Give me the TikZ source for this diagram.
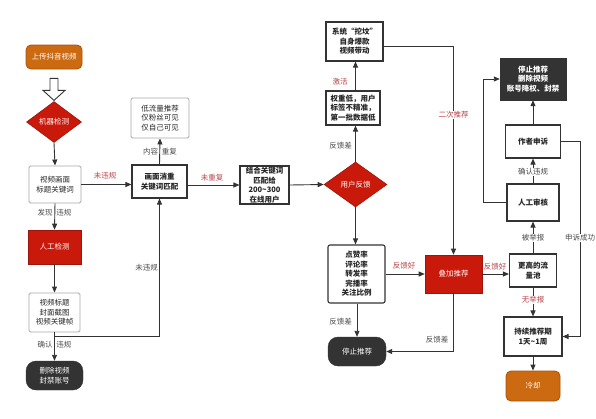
\documentclass[tikz,border=0pt]{standalone}
\usepackage{fontspec}
\newfontfamily\cjk{Noto Sans CJK SC}
\usetikzlibrary{arrows.meta,shapes.geometric}
\definecolor{lineC}{HTML}{333333}
\definecolor{redF}{HTML}{C8190B}
\definecolor{orangeF}{HTML}{CC6A12}
\definecolor{orangeD}{HTML}{A9520A}
\definecolor{darkF}{HTML}{333333}
\definecolor{labR}{HTML}{B8454A}
\definecolor{grayB}{HTML}{A8A8A8}
\begin{document}
\begin{tikzpicture}[x=1pt,y=-1pt,
  base/.style={align=center,inner sep=0pt,font=\cjk\fontsize{7.5}{9.5}\selectfont,text=black!85},
  blk/.style={base,draw=lineC,line width=1.1pt,fill=white,font=\cjk\bfseries\fontsize{7.5}{9.5}\selectfont},
  gry/.style={base,draw=grayB,line width=0.9pt,fill=white,rounded corners=1.5pt},
  redbox/.style={base,fill=redF,draw=redF!80!black,line width=0.6pt,text=white},
  redmd/.style={base,diamond,fill=redF,draw=redF!80!black,line width=0.6pt,text=white},
  darkbox/.style={base,fill=darkF,draw=darkF,text=white,rounded corners=10pt},
  orabox/.style={base,fill=orangeF,draw=orangeD,line width=0.8pt,text=white,rounded corners=5pt},
  lab/.style={base,text=black!70},
  rlab/.style={base,text=labR},
  wb/.style={fill=white,inner sep=1pt},
  arr/.style={draw=lineC,line width=0.9pt,-{Triangle[length=6pt,width=5pt]}},
  ln/.style={draw=lineC,line width=0.9pt}
]
\useasboundingbox (0,0) rectangle (596,418);

% left column
\node[orabox,minimum width=56,minimum height=24] (upload) at (54,57) {上传抖音视频};
\node[redmd,minimum width=55,minimum height=41,aspect=1.34] (detect) at (54,122) {机器检测};
\node[gry,minimum width=52,minimum height=37] (video) at (55,184.5) {视频画面\\标题关键词};
\node[redbox,minimum width=53,minimum height=34] (manual) at (54.5,247) {人工检测};
\node[gry,minimum width=51,minimum height=39] (frames) at (54.5,312.5) {视频标题\\封面截图\\视频关键帧};
\node[darkbox,minimum width=57,minimum height=29] (ban) at (54.5,375.5) {删除视频\\封禁账号};

% second column
\node[gry,minimum width=58,minimum height=40] (lowflow) at (160,118) {低流量推荐\\仅粉丝可见\\仅自己可见};
\node[blk,minimum width=55,minimum height=33] (dedup) at (159.5,181.5) {画面消重\\关键词匹配};
\node[blk,minimum width=49,minimum height=38] (match) at (264.5,185) {结合关键词\\匹配给\\200\textasciitilde300\\在线用户};

% middle column
\node[blk,minimum width=57,minimum height=39] (system) at (354.5,41.5) {系统“挖坟”\\自身爆款\\视频带动};
\node[blk,minimum width=54,minimum height=34] (weight) at (353,108) {权重低，用户\\标签不精准，\\第一批数据低};
\node[redmd,minimum width=63,minimum height=45,aspect=1.4] (fb) at (355.5,184.5) {用户反馈};
\node[blk,rounded corners=2pt,minimum width=57,minimum height=58] (metrics) at (356.5,274) {点赞率\\评论率\\转发率\\完播率\\关注比例};
\node[darkbox,minimum width=58,minimum height=29] (stop) at (357,351.5) {停止推荐};
\node[redbox,minimum width=57,minimum height=38] (boost) at (453.5,274) {叠加推荐};

% right column
\node[darkbox,rounded corners=0pt,minimum width=66,minimum height=42,font=\cjk\bfseries\fontsize{7.5}{9.5}\selectfont] (black) at (533,79) {停止推荐\\删除视频\\账号降权、封禁};
\node[blk,minimum width=55,minimum height=33] (appeal) at (533,141.5) {作者申诉};
\node[blk,minimum width=52,minimum height=37] (review) at (533,202.5) {人工审核};
\node[blk,minimum width=47,minimum height=33] (higher) at (533,270.5) {更高的流\\量池};
\node[blk,minimum width=58,minimum height=39] (sustain) at (533,336.5) {持续推荐期\\1天\textasciitilde1周};
\node[orabox,minimum width=54,minimum height=30] (cool) at (533,386) {冷却};

% hollow arrow
\draw[draw=lineC,line width=0.9pt,fill=white,shift={(upload.south)}]
  (-4,9) -- (4,9) -- (4,21) -- (11,21) -- (0,31) -- (-11,21) -- (-4,21) -- cycle;

% left connectors
\draw[arr] (detect.south) -- (video.north);
\draw[arr] (video.east) -- (video.east -| dedup.west);
\node[rlab] (l1) at (105,176) {未违规};
\draw[arr] (video.south) -- (manual.north);
\node[lab] (l2) at (54.5,213) {发现\enspace 违规};
\draw[arr] (manual.south) -- (frames.north);
\draw[arr] (frames.south) -- (ban.north);
\node[lab] (l3) at (54.5,345) {确认\enspace 违规};
\coordinate (j1) at (54.5,336);
\draw[arr] (j1) -| (dedup.south);
\node[lab,anchor=east] (l4) at (158,268) {未违规};

\draw[arr] (dedup.north) -- (lowflow.south);
\node[lab] (l5) at (160,152) {内容\enspace 重复};
\draw[arr] (dedup.east |- match.west) -- (match.west);
\node[rlab] (l6) at (212,178) {未重复};
\draw[arr] (match.east) -- (fb.west);

% middle connectors
\draw[arr] (fb.north) -- (fb.north |- weight.south);
\node[lab,anchor=east] (l7) at (352,146) {反馈差};
\draw[arr] (weight.north -| fb.north) -- (fb.north |- system.south);
\node[rlab] (l8) at (340,82) {激活};
\coordinate (c0) at (453.5,46);
\draw[ln] (system.east |- c0) -- (c0);
\draw[arr] (c0) -- (boost.north);
\node[rlab,wb] (l9) at (453.5,115) {二次推荐};
\draw[arr] (fb.south) -- (fb.south |- metrics.north);
\draw[arr] (metrics.east) -- (boost.west);
\node[rlab] (l10) at (404,266) {反馈好};
\draw[arr] (metrics.south -| stop.north) -- (stop.north);
\node[lab,anchor=east] (l11) at (352,322) {反馈差};
\draw[arr] (boost.south) |- (stop.east);
\node[lab] (l12) at (437,340) {反馈差};

% right connectors
\draw[arr] (boost.east) -- (boost.east -| higher.west);
\node[rlab] (l13) at (495,266.5) {反馈好};
\draw[arr] (higher.north) -- (review.south);
\node[lab,wb] (l14) at (533,238) {被举报};
\draw[arr] (review.north) -- (appeal.south);
\node[lab,wb] (l15) at (533,172) {确认违规};
\draw[arr] (appeal.north) -- (black.south);
\coordinate (c1) at (483,79);
\draw[arr] (review.west) -| (c1) -- (black.west);
\coordinate (c2) at (580,336.5);
\draw[arr] (appeal.east) -| (c2) -- (sustain.east);
\node[lab,wb] (l16) at (580,238) {申诉成功};
\draw[arr] (higher.south) -- (sustain.north);
\node[rlab,wb] (l17) at (533,300) {无举报};
\draw[arr] (sustain.south) -- (cool.north);
\end{tikzpicture}
\end{document}
